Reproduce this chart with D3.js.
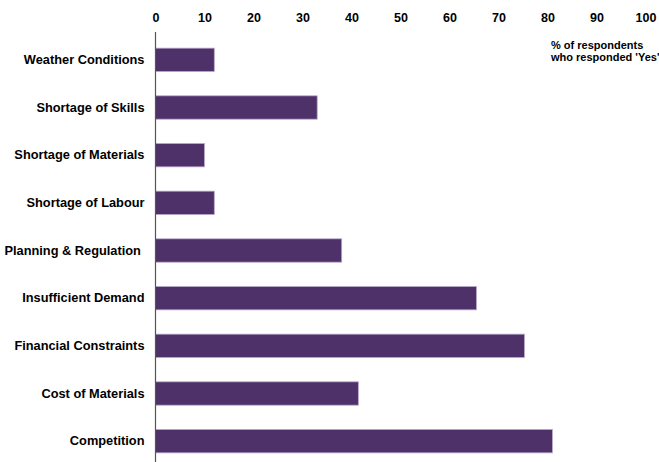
<!DOCTYPE html>
<html>
<head>
<meta charset="utf-8">
<script src="https://cdn.jsdelivr.net/npm/d3@7"></script>
<style>
  html, body { margin: 0; padding: 0; background: #fff; }
  svg { display: block; font-family: "Liberation Sans", Arial, sans-serif; }
</style>
</head>
<body>
<svg id="chart" width="659" height="462"></svg>
<script>
// Obstacles to business: share of respondents answering 'Yes'
const categories = [
  "Weather Conditions",
  "Shortage of Skills",
  "Shortage of Materials",
  "Shortage of Labour",
  "Planning & Regulation ",
  "Insufficient Demand",
  "Financial Constraints",
  "Cost of Materials",
  "Competition"
];
const values = [12, 33, 10, 12, 38, 65.5, 75.3, 41.4, 81];
const tickValues = [0, 10, 20, 30, 40, 50, 60, 70, 80, 90, 100];
const noteLines = ["% of respondents", "who responded 'Yes'"];

const svg = d3.select("#chart");
const plotLeft = 155.5, plotRight = 645.5, plotTop = 36, plotBottom = 465;

const x = d3.scaleLinear().domain([0, 100]).range([plotLeft, plotRight]);
const y = d3.scaleBand().domain(categories).range([plotTop, plotBottom]).paddingInner(0.51).paddingOuter(0.255);

// top axis: labels only
const xAxis = d3.axisTop(x).tickValues(tickValues).tickSize(0).tickPadding(0).tickFormat(d3.format("d"));
const gx = svg.append("g").attr("transform", "translate(0,22)").call(xAxis);
gx.select(".domain").remove();
gx.selectAll("text")
  .attr("dy", 0)
  .attr("font-size", 12.5)
  .attr("font-weight", "bold")
  .attr("font-family", "'Liberation Sans', Arial, sans-serif")
  .attr("fill", "#000");

// bars
svg.append("g").selectAll("rect")
  .data(values)
  .join("rect")
  .attr("x", x(0))
  .attr("y", (d, i) => y(categories[i]))
  .attr("width", d => x(d) - x(0))
  .attr("height", y.bandwidth())
  .attr("fill", "#4e3168")
  .attr("stroke", "#b9a8cc")
  .attr("stroke-width", 0.8);

// category axis
const yAxis = d3.axisLeft(y).tickSize(0).tickPadding(11);
const gy = svg.append("g").attr("transform", `translate(${plotLeft},0)`).call(yAxis);
gy.select(".domain").remove();
gy.selectAll("text")
  .attr("font-size", 12.8)
  .attr("font-weight", "bold")
  .attr("font-family", "'Liberation Sans', Arial, sans-serif")
  .attr("fill", "#000")
  .style("white-space", "pre");

svg.append("line")
  .attr("x1", plotLeft).attr("x2", plotLeft)
  .attr("y1", 32).attr("y2", 462)
  .attr("stroke", "#555").attr("stroke-width", 1.2);

// note
svg.append("g").selectAll("text")
  .data(noteLines)
  .join("text")
  .attr("x", 551)
  .attr("y", (d, i) => 49 + i * 12)
  .attr("font-size", 11)
  .attr("font-weight", "bold")
  .attr("fill", "#000")
  .text(d => d);
</script>
</body>
</html>
